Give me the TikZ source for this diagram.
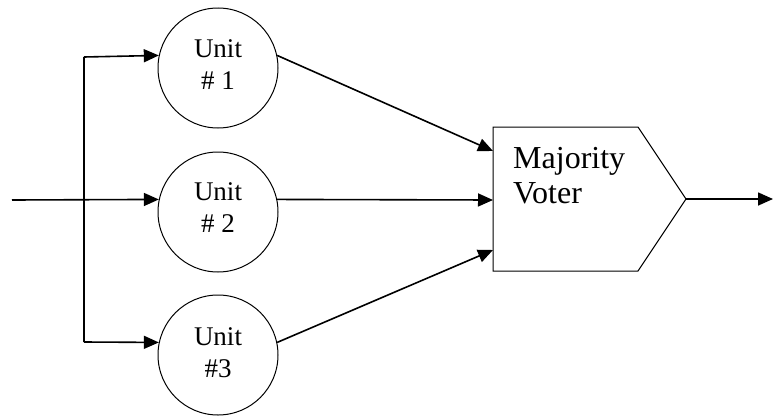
\documentclass[tikz,border=0pt]{standalone}
\usepackage{fontspec}
\setmainfont{Liberation Serif}
\usetikzlibrary{arrows.meta}
\begin{document}
\begin{tikzpicture}[x=1pt,y=-1pt,
  unitnode/.style={draw, circle, line width=1pt, minimum size=120pt, inner sep=0pt},
  unitlabel/.style={anchor=base, align=center, inner sep=0pt,
    font=\fontsize{27}{32}\selectfont},
  sig/.style={line width=1.6pt, -{Triangle[length=15pt,width=13pt]}},
  plain/.style={line width=1.6pt},
  voterbox/.style={draw, line width=1pt}]
\useasboundingbox (0,0) rectangle (773,415);

% redundant units
\node[unitnode] (u1) at (218,68)  {};
\node[unitnode] (u2) at (218,212) {};
\node[unitnode] (u3) at (218,355) {};
\node[unitlabel] (t1) at (218,89)  {Unit\\\# 1};
\node[unitlabel] (t2) at (218,232) {Unit\\\# 2};
\node[unitlabel] (t3) at (218,377) {Unit\\\#3};

% majority voter block
\coordinate (mvnw) at (493,127);
\coordinate (mvsw) at (493,271);
\coordinate (mvne) at (638,127);
\coordinate (mvse) at (638,271);
\coordinate (mvtip) at (686,199);
\draw[voterbox] (mvnw) -- (mvne) -- (mvtip) -- (mvse) -- (mvsw) -- cycle;
\node[anchor=base west, align=left, inner sep=0pt,
  font=\fontsize{32}{35}\selectfont] (mvtext) at (513,203) {Majority\\Voter};

% input and fan-out
\coordinate (in) at (12,200);
\coordinate (top) at (84,57);
\coordinate (bot) at (84,342);
\draw[sig] (in) -- (u2.168);
\draw[plain] (top) -- (bot);
\draw[sig] (top) -- (u1.168);
\draw[sig] (bot) -- (u3.168);

% unit outputs to the voter
\coordinate (v1) at (493,151);
\coordinate (v2) at (493,200);
\coordinate (v3) at (493,250);
\draw[sig] (u1.12) -- (v1);
\draw[sig] (u2.12) -- (v2);
\draw[sig] (u3.12) -- (v3);

% voter output
\coordinate (out) at (773,199);
\draw[sig] (mvtip) -- (out);
\end{tikzpicture}
\end{document}
